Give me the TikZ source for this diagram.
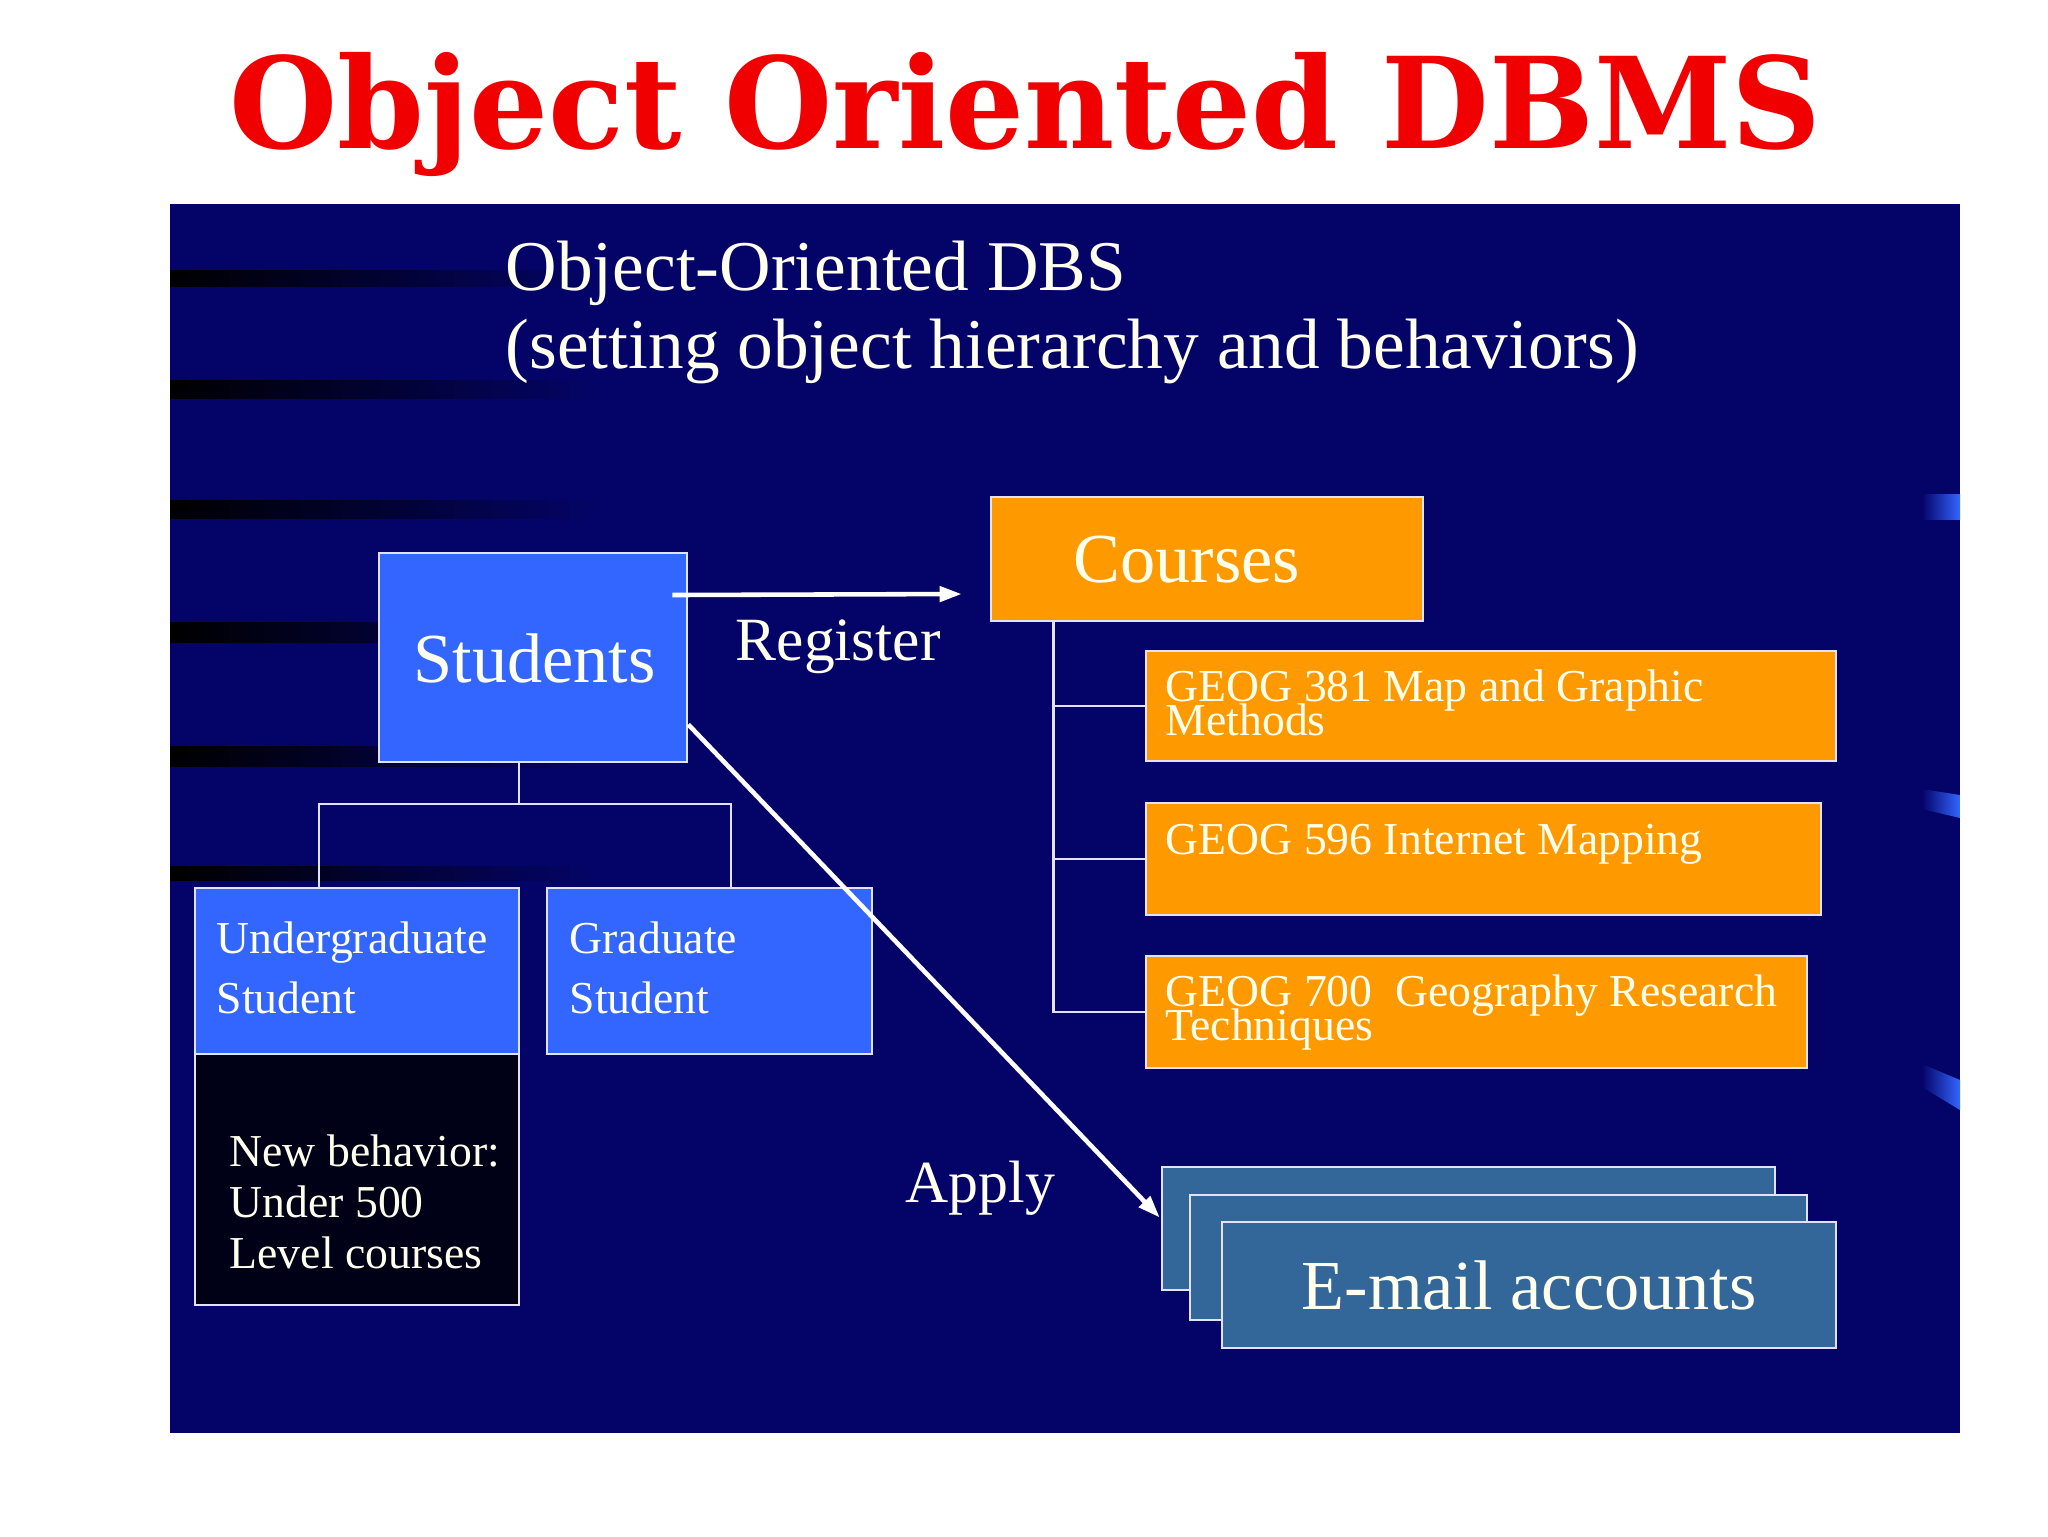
\documentclass[tikz,border=0pt]{standalone}
\usepackage{fontspec}
\setmainfont{Liberation Serif}
\newfontfamily\titlefont{DejaVu Serif}
\usetikzlibrary{calc,arrows.meta}
\definecolor{navy}{RGB}{4,4,104}
\definecolor{navydark}{RGB}{0,0,22}
\definecolor{stublue}{RGB}{51,102,255}
\definecolor{courseorange}{RGB}{255,153,0}
\definecolor{mailblue}{RGB}{51,102,153}
\definecolor{cream}{RGB}{255,255,238}
\definecolor{boxline}{RGB}{226,226,255}
\definecolor{titlered}{RGB}{240,0,0}
\newdimen\pxu
\pxu=0.1mm
\begin{document}
\begin{tikzpicture}[x=0.1mm,y=-0.1mm,
  box/.style={draw=boxline, line width=0.74pt, inner sep=0pt, rectangle},
  stubox/.style={box, fill=stublue},
  crsbox/.style={box, fill=courseorange},
  mailbox/.style={box, fill=mailblue},
  txt/.style={text=cream, inner sep=0pt, anchor=base west},
  twoline/.style={txt, align=left, font={\fontsize{13}{9.4}\selectfont\lineskiplimit=-20pt\lineskip=0pt}},
  conn/.style={draw=boxline, line width=0.74pt},
  arr/.style={draw=white, line width=1.3pt, -{Triangle[length=6.3pt, width=4.3pt]}},
  band/.style={left color=black, right color=navy}]
\useasboundingbox (0,0) rectangle (2048,1536);
\fill[white] (0,0) rectangle (2048,1536);

% slide panel
\fill[navy] (170,204) rectangle (1960,1433);
\foreach \ya/\yb in {270/286, 380/398, 500/518, 622/642, 746/766, 866/880}
  \shade[band] (170,\ya) rectangle (600,\yb);
\shade[left color=navy, right color=stublue] (1922,494) rectangle (1960,519);
\shade[left color=navy, right color=stublue] (1922,789) -- (1960,795) -- (1960,818) -- (1922,809) -- cycle;
\shade[left color=navy, right color=stublue] (1922,1064) -- (1960,1080) -- (1960,1110) -- (1922,1087) -- cycle;

% title
\node[anchor=base, text=titlered, inner sep=0pt] (title) at (1025.5,148)
  {\resizebox{453pt}{\height}{\titlefont\bfseries\fontsize{36}{40}\selectfont Object Oriented DBMS}};

% subtitle
\node[txt] (sub1) at (505,290) {\fontsize{20.3}{22}\selectfont Object-Oriented DBS};
\node[txt] (sub2) at (505,368) {\fontsize{20.3}{22}\selectfont (setting object hierarchy and behaviors)};

% student hierarchy
\node[stubox, minimum width=308\pxu, minimum height=209\pxu] (stu) at (533,657.5) {};
\node[txt] (stut) at (413,682) {\fontsize{20}{24}\selectfont Students};
\node[stubox, minimum width=324\pxu, minimum height=166\pxu] (ug) at (357,971) {};
\node[stubox, minimum width=325\pxu, minimum height=166\pxu] (gr) at (709.5,971) {};
\node[box, fill=navydark, minimum width=324\pxu, minimum height=251\pxu] (nb) at (357,1179.5) {};
\node[txt] (ugt1) at (216,953) {\fontsize{13}{15}\selectfont Undergraduate};
\node[txt] (ugt2) at (216,1013) {\fontsize{13}{15}\selectfont Student};
\node[txt] (grt1) at (569,953) {\fontsize{13}{15}\selectfont Graduate};
\node[txt] (grt2) at (569,1013) {\fontsize{13}{15}\selectfont Student};
\node[txt] (nbt1) at (229,1166) {\fontsize{13}{15}\selectfont New behavior:};
\node[txt] (nbt2) at (229,1217) {\fontsize{13}{15}\selectfont Under 500};
\node[txt] (nbt3) at (229,1268) {\fontsize{13}{15}\selectfont Level courses};

\coordinate (tj) at (519,804);
\draw[conn] (stu.south -| tj) -- (tj);
\draw[conn] ($(ug.north)+(-38,0)$) |- (tj) -| ($(gr.north)+(21.5,0)$);

% courses
\node[crsbox, minimum width=432\pxu, minimum height=124\pxu] (crs) at (1207,559) {};
\node[txt] (crst) at (1073,582) {\fontsize{20}{24}\selectfont Courses};
\node[crsbox, minimum width=690\pxu, minimum height=110\pxu] (g1) at (1491,706) {};
\node[crsbox, minimum width=675\pxu, minimum height=112\pxu] (g2) at (1483.5,859) {};
\node[crsbox, minimum width=661\pxu, minimum height=112\pxu] (g3) at (1476.5,1012) {};
\node[twoline] (g1t) at (1165,735) {GEOG 381 Map and Graphic\\Methods};
\node[txt] (g2t) at (1165,854) {\fontsize{13}{10}\selectfont GEOG 596 Internet Mapping};
\node[twoline] (g3t) at (1165,1040) {GEOG 700\ \ Geography Research\\Techniques};

\coordinate (ct) at ($(crs.south west)+(64,0)$);
\draw[conn] (ct) |- (g3.west);
\draw[conn] (g1.west -| ct) -- (g1.west);
\draw[conn] (g2.west -| ct) -- (g2.west);

% e-mail stack
\node[mailbox, minimum width=613\pxu, minimum height=123\pxu] (em1) at (1468.5,1228.5) {};
\node[mailbox, minimum width=617\pxu, minimum height=125\pxu] (em2) at (1498.5,1257.5) {};
\node[mailbox, minimum width=614\pxu, minimum height=126\pxu] (em3) at (1529,1285) {};
\node[txt] (emt) at (1301,1309) {\fontsize{20}{24}\selectfont E-mail accounts};

% arrows and labels
\draw[arr] ($(stu.east)+(-16,-62.5)$) -- ($(crs.west)+(-28,35)$);
\node[txt] (regt) at (735,660) {\fontsize{17.5}{20}\selectfont Register};
\draw[arr] ($(stu.east)+(0,67)$) -- ($(em1.west)+(-1,-11)$);
\node[txt] (appt) at (905,1202) {\fontsize{17}{20}\selectfont Apply};
\end{tikzpicture}
\end{document}
